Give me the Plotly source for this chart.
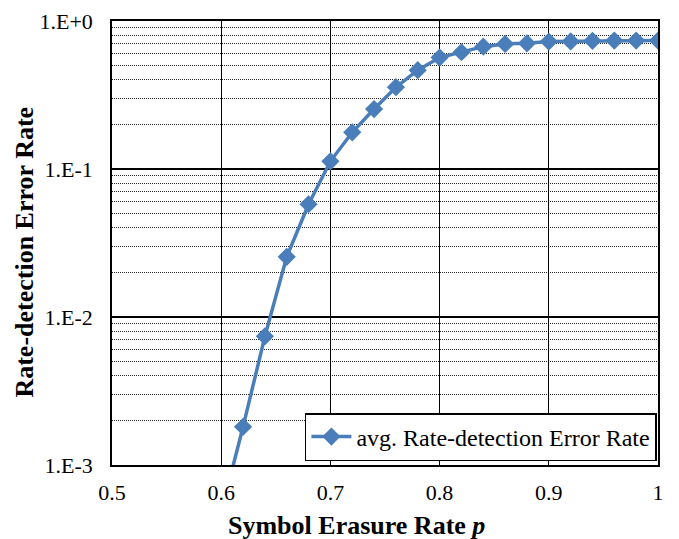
import plotly.graph_objects as go

p_values = [0.60, 0.62, 0.64, 0.66, 0.68, 0.70, 0.72, 0.74, 0.76, 0.78, 0.80,
            0.82, 0.84, 0.86, 0.88, 0.90, 0.92, 0.94, 0.96, 0.98, 1.00]
error_rate = [0.00048, 0.00181, 0.0074, 0.0255, 0.0578, 0.1127, 0.177, 0.254, 0.357,
              0.465, 0.566, 0.615, 0.671, 0.700, 0.707, 0.726, 0.728, 0.735,
              0.737, 0.737, 0.737]
series_name = "avg. Rate-detection Error Rate"
x_title = "<b>Symbol Erasure Rate <i>p</i></b>"
y_title = "<b>Rate-detection Error Rate</b>"

x_tick_vals = [0.5, 0.6, 0.7, 0.8, 0.9, 1.0]
x_tick_text = ["0.5", "0.6", "0.7", "0.8", "0.9", "1"]
y_tick_vals = [1e-3, 1e-2, 1e-1, 1e0]
y_tick_text = ["1.E-3", "1.E-2", "1.E-1", "1.E+0"]
minor_mults = [2, 3, 4, 5, 6, 7, 8, 9]
decades = [1e-3, 1e-2, 1e-1]
y_minor_vals = [d * m for d in decades for m in minor_mults]

FONT = "Liberation Serif"
BLUE = "#4A7EBB"

fig = go.Figure()
fig.add_trace(go.Scatter(
    x=p_values, y=error_rate, mode="lines+markers", name=series_name,
    line=dict(color=BLUE, width=3.5),
    marker=dict(symbol="diamond", size=14, color=BLUE),
))

# page body has an 8px margin: figure is 8px smaller so it fits the window
fig.update_layout(
    width=671, height=531,
    margin=dict(l=104, r=21, t=13, b=74),
    paper_bgcolor="white", plot_bgcolor="white",
    font=dict(family=FONT, size=22, color="black"),
    showlegend=True,
    legend=dict(
        x=0.998, y=0.009, xanchor="right", yanchor="bottom",
        bordercolor="black", borderwidth=1.5, bgcolor="white",
        font=dict(family=FONT, size=24, color="black"),
        itemwidth=40,
    ),
    xaxis=dict(
        range=[0.5, 1.0], tickmode="array", tickvals=x_tick_vals, ticktext=x_tick_text,
        showgrid=True, gridcolor="black", gridwidth=1,
        showline=True, linecolor="black", linewidth=1.5, mirror=True,
        ticks="", zeroline=False, automargin=False,
        tickfont=dict(family=FONT, size=22), ticklabelstandoff=7,
    ),
    yaxis=dict(
        type="log", range=[-3, 0], tickmode="array", tickvals=y_tick_vals, ticktext=y_tick_text,
        showgrid=True, gridcolor="black", gridwidth=1.5,
        showline=True, linecolor="black", linewidth=1.5, mirror=True,
        ticks="", zeroline=False, automargin=False,
        tickfont=dict(family=FONT, size=22), ticklabelstandoff=13,
        minor=dict(tickmode="array", tickvals=y_minor_vals, showgrid=True,
                   gridcolor="#222222", griddash="1px,1px", gridwidth=1, ticks=""),
    ),
    annotations=[
        dict(text=x_title, xref="paper", yref="paper", x=0.447, y=-0.098,
             xanchor="center", yanchor="top", showarrow=False,
             font=dict(family=FONT, size=26, color="black")),
        dict(text=y_title, xref="paper", yref="paper", x=-0.161, y=0.4786,
             xanchor="center", yanchor="middle", textangle=-90, showarrow=False,
             font=dict(family=FONT, size=26, color="black")),
    ],
)

fig.write_html("out.html")
